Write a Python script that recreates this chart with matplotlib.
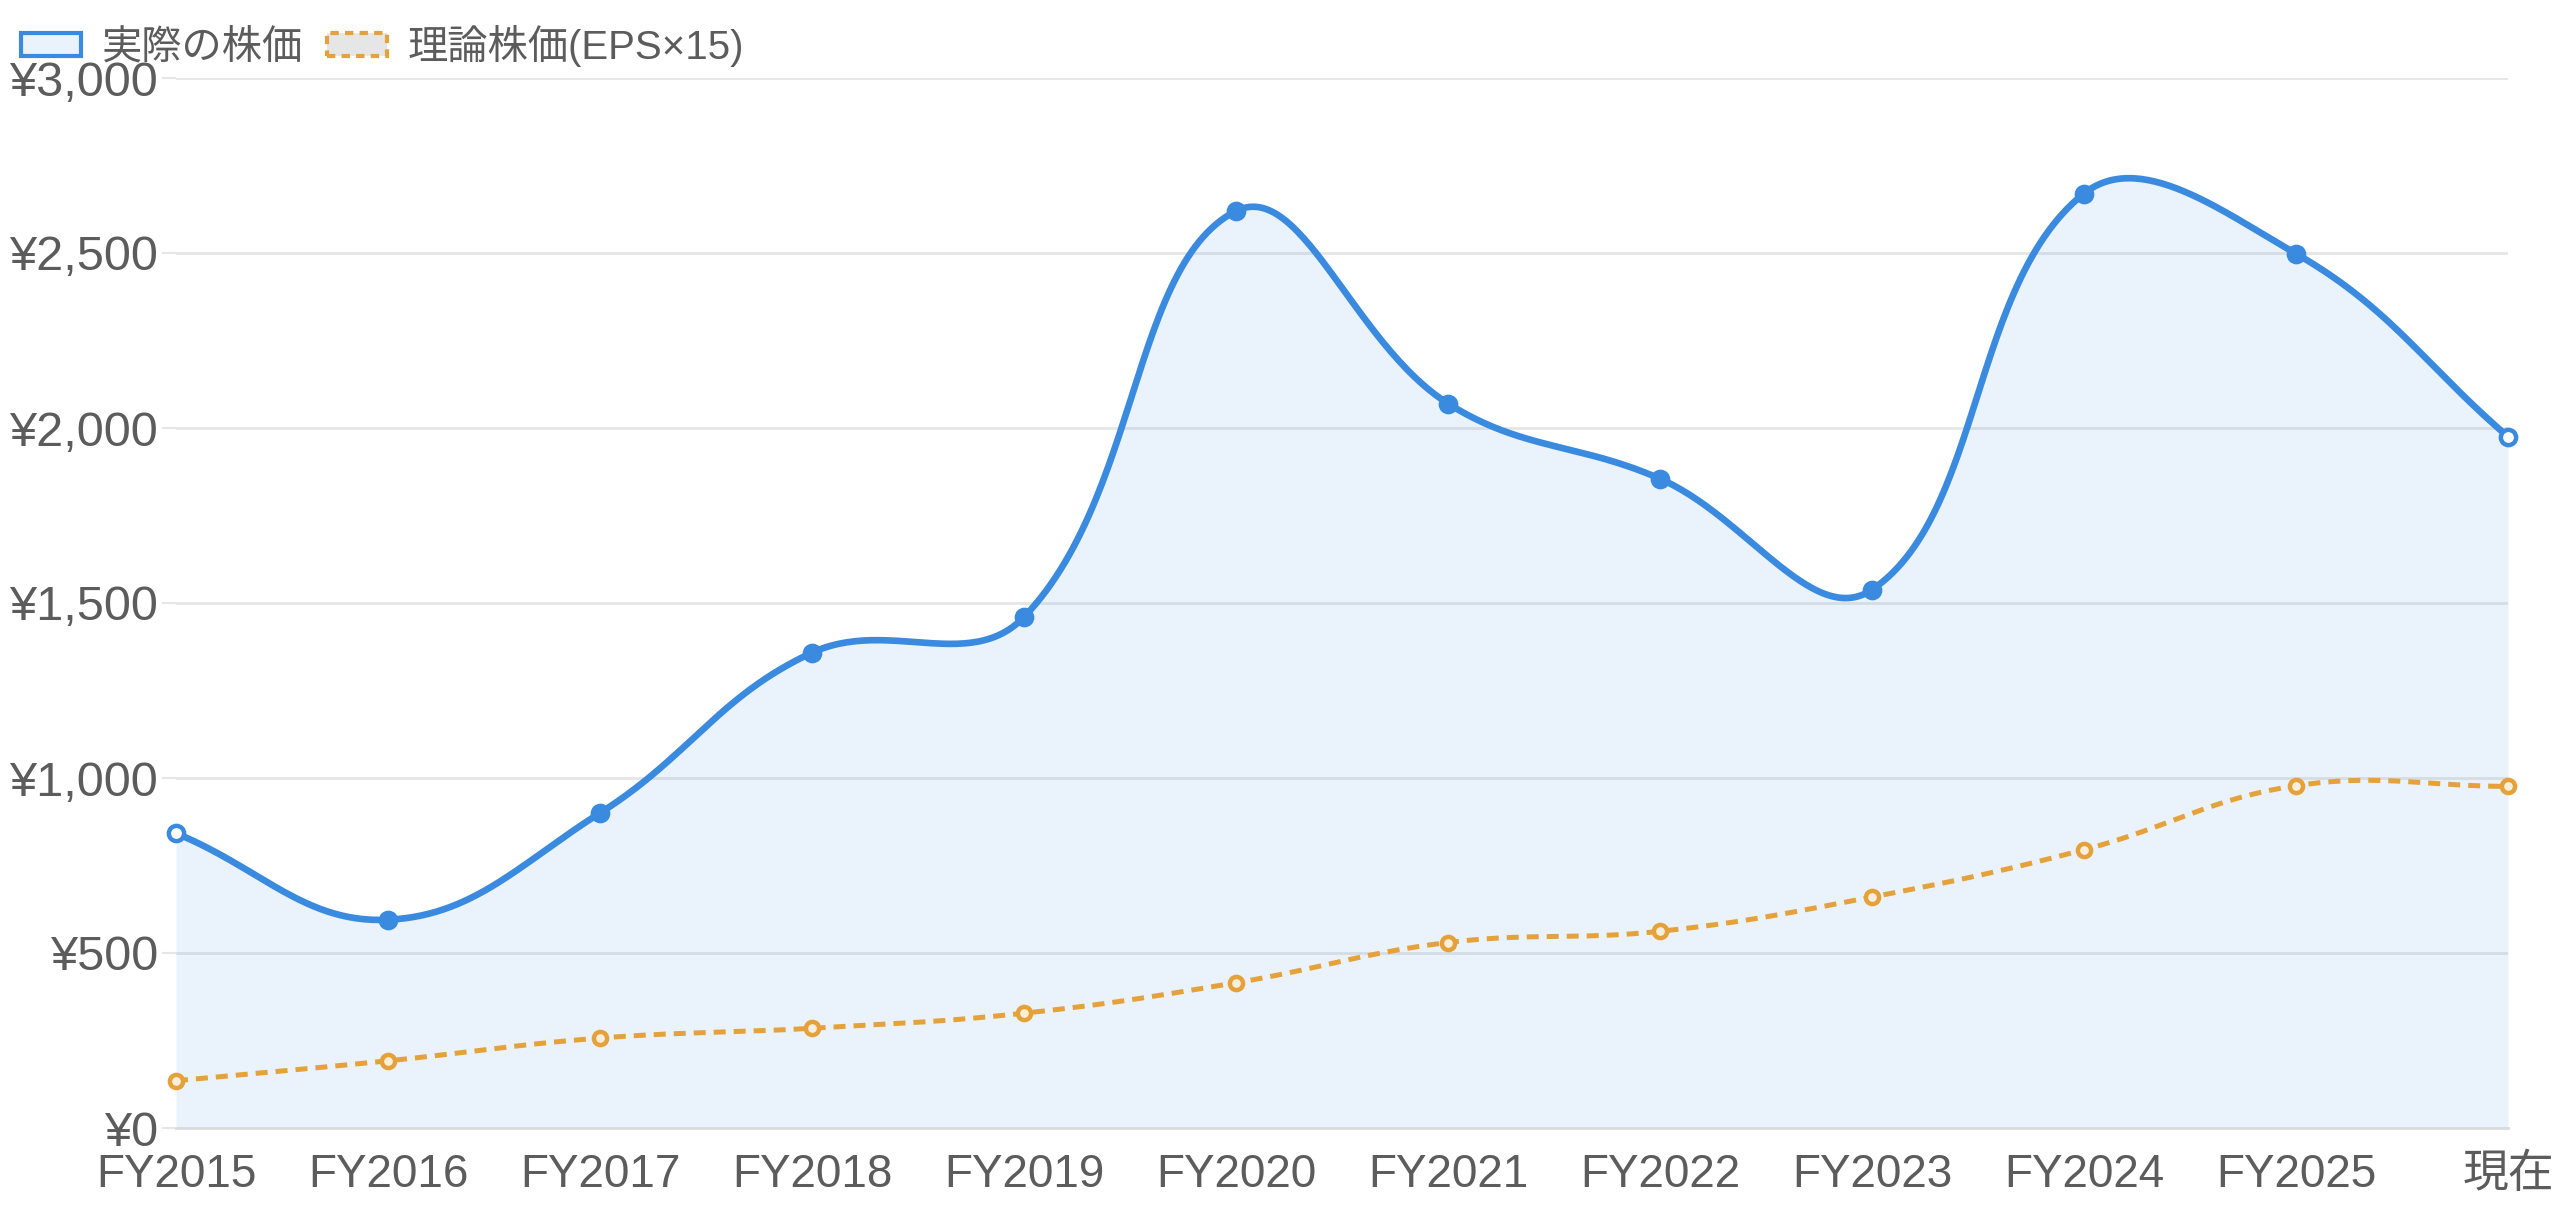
import numpy as np
import matplotlib
matplotlib.use("Agg")
import matplotlib.pyplot as plt
from matplotlib.patches import Patch

plt.rcParams['font.family'] = ['Liberation Sans', 'Noto Sans CJK JP', 'DejaVu Sans']

labels = ["FY2015", "FY2016", "FY2017", "FY2018", "FY2019", "FY2020",
          "FY2021", "FY2022", "FY2023", "FY2024", "FY2025", "現在"]
actual_price = [842, 595, 900, 1358, 1460, 2620, 2070, 1855, 1538, 2670, 2498, 1975]
theory_price = [135, 192, 257, 285, 328, 415, 530, 562, 660, 795, 978, 976]
y_ticks = [0, 500, 1000, 1500, 2000, 2500, 3000]

blue = "#3a8be0"
orange = "#e5a13a"
text_grey = "#5c5c5c"
grid_grey = "#e6e6e6"

W, H = 2560, 1209
fig = plt.figure(figsize=(W / 100, H / 100), dpi=100)
left, right, top, bottom = 176, 2508, 78, 1128
ax = fig.add_axes([left / W, 1 - bottom / H, (right - left) / W, (bottom - top) / H])
x = np.arange(len(labels))
ax.set_xlim(0, len(labels) - 1)
ax.set_ylim(0, 3000)


def spline(xs, ys, tension=0.4, n=60):
    # chart.js style bezier, computed in pixel space
    pts = ax.transData.transform(np.column_stack([xs, ys]))
    m = len(pts)
    ctrl_prev, ctrl_next = [], []
    for i in range(m):
        p0 = pts[max(i - 1, 0)]
        p1 = pts[i]
        p2 = pts[min(i + 1, m - 1)]
        d01 = np.hypot(*(p1 - p0))
        d12 = np.hypot(*(p2 - p1))
        tot = d01 + d12
        s01 = d01 / tot if tot else 0
        s12 = d12 / tot if tot else 0
        ctrl_prev.append(p1 - tension * s01 * (p2 - p0))
        ctrl_next.append(p1 + tension * s12 * (p2 - p0))
    out = [pts[0]]
    t = np.linspace(0, 1, n)[1:, None]
    for i in range(m - 1):
        a, b, c, d = pts[i], ctrl_next[i], ctrl_prev[i + 1], pts[i + 1]
        seg = ((1 - t) ** 3) * a + 3 * ((1 - t) ** 2) * t * b + 3 * (1 - t) * t ** 2 * c + t ** 3 * d
        out.extend(seg)
    out = np.array(out)
    data = ax.transData.inverted().transform(out)
    return data[:, 0], data[:, 1]


# grid
ax.set_yticks(y_ticks)
ax.set_yticklabels([f"¥{v:,}" for v in y_ticks])
ax.grid(axis="y", color=grid_grey, linewidth=2)
ax.set_axisbelow(True)
for s in ["top", "right", "left"]:
    ax.spines[s].set_visible(False)
ax.spines["bottom"].set_color("#dcdcdc")
ax.spines["bottom"].set_linewidth(2)
ax.tick_params(axis="y", length=10, width=1.5, color=grid_grey, pad=3,
               labelsize=35, labelcolor=text_grey)
ax.set_xticks(x)
ax.set_xticklabels(labels)
ax.tick_params(axis="x", length=0, pad=18, labelsize=33, labelcolor=text_grey)

bx, by = spline(x, actual_price)
ax.fill_between(bx, by, 0, color=blue, alpha=0.1, linewidth=0)
ax.plot(bx, by, color=blue, linewidth=4.8, solid_capstyle="round", zorder=3)
faces = ["white"] + [blue] * (len(x) - 2) + ["white"]
for xi, yi, fc in zip(x, actual_price, faces):
    ax.plot(xi, yi, "o", markersize=11, markerfacecolor=fc, markeredgecolor=blue,
            markeredgewidth=3.2, zorder=4, clip_on=False)

ox, oy = spline(x, theory_price)
ax.plot(ox, oy, color=orange, linewidth=3.6, dashes=(2.4, 1.6), zorder=3)
ax.plot(x, theory_price, "o", markersize=9.5, markerfacecolor="#fbeedb",
        markeredgecolor=orange, markeredgewidth=3.2, zorder=4, clip_on=False)

handles = [
    Patch(facecolor="#eaf2fb", edgecolor=blue, linewidth=3, label="実際の株価"),
    Patch(facecolor="#e6e6e6", edgecolor=orange, linewidth=3, linestyle=(0, (2, 1.5)),
          label="理論株価(EPS×15)"),
]
leg = fig.legend(handles=handles, loc="center left", bbox_to_anchor=(21 / W, 1 - 46 / H),
                 ncol=2, frameon=False, fontsize=29, handlelength=1.5, handleheight=0.5,
                 handletextpad=0.5, columnspacing=0.6, borderpad=0, borderaxespad=0)
for t in leg.get_texts():
    t.set_color(text_grey)

fig.savefig("out.png", dpi=100)
